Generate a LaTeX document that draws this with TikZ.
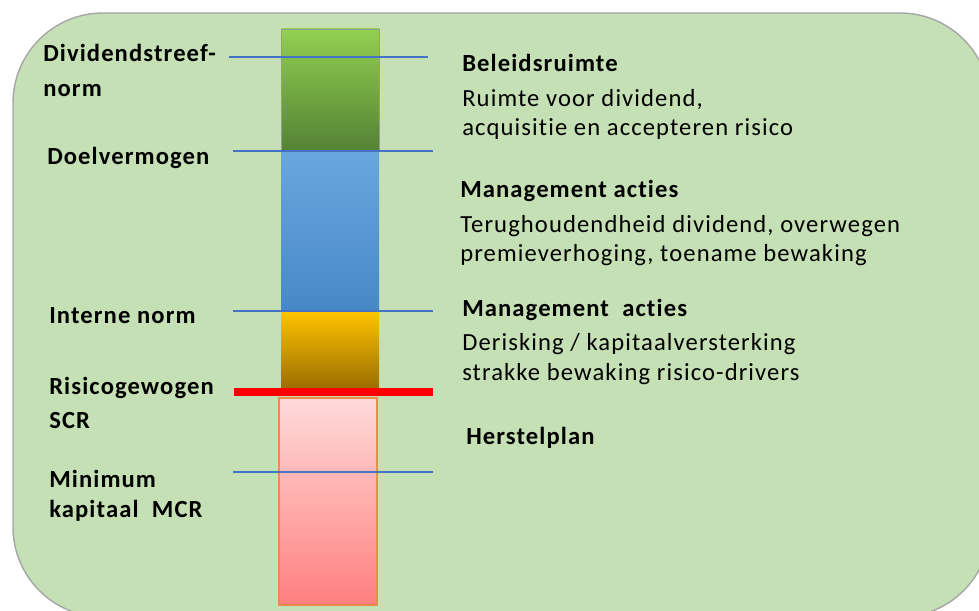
\documentclass[tikz,border=0pt]{standalone}
\usepackage{fontspec}
\setmainfont{Carlito}[Ligatures=NoCommon, LetterSpace=4.5]
\usetikzlibrary{positioning}

\definecolor{achtergrond}{HTML}{C5E0B4}
\definecolor{normblauw}{HTML}{4472C4}
\definecolor{groenboven}{HTML}{92D050}
\definecolor{groenonder}{HTML}{548235}
\definecolor{blauwboven}{HTML}{6AA6DE}
\definecolor{blauwonder}{HTML}{4688C8}
\definecolor{geelboven}{HTML}{FFC400}
\definecolor{geelonder}{HTML}{9C6E00}
\definecolor{roseboven}{HTML}{FFDADA}
\definecolor{roseonder}{HTML}{FF7F7F}
\definecolor{roserand}{HTML}{F08A4B}

\begin{document}
\begin{tikzpicture}[x=0.025cm,y=-0.025cm]
\tikzstyle{normlijn} = [draw=normblauw, line width=1pt]
\tikzstyle{kop} = [anchor=base west, inner sep=0pt, font=\fontsize{17.5}{20}\selectfont\bfseries]
\tikzstyle{tekst} = [anchor=base west, inner sep=0pt, font=\fontsize{17.5}{20}\selectfont]
\useasboundingbox (0,0) rectangle (979,611);
\clip (0,0) rectangle (979,611);
% achtergrond
\draw[fill=achtergrond, draw=gray!70, line width=1pt, rounded corners=2.25cm] (13,13) rectangle (990,617);
% kolom
\shade[top color=groenboven, bottom color=groenonder] (281,29) rectangle (379,151);
\draw[gray!80, line width=0.6pt] (281,151) |- (379,29) -- (379,151);
\shade[top color=blauwboven, bottom color=blauwonder] (281,151) rectangle (379,311);
\shade[top color=geelboven, bottom color=geelonder] (281,311) rectangle (379,388);
\shade[top color=roseboven, bottom color=roseonder, draw=roserand, line width=1pt] (279,398) rectangle (377,605);
% normen
\coordinate (dsn-l) at (229,57);  \coordinate (dsn-r) at (428,57);
\coordinate (dv-l) at (233,151);  \coordinate (dv-r) at (433,151);
\coordinate (in-l) at (233,311);  \coordinate (in-r) at (433,311);
\coordinate (mcr-l) at (233,472); \coordinate (mcr-r) at (433,472);
\coordinate (scr-l) at (234,392); \coordinate (scr-r) at (433,392);
\draw[normlijn] (dsn-l) -- (dsn-r);
\draw[normlijn] (dv-l) -- (dv-r);
\draw[normlijn] (in-l) -- (in-r);
\draw[normlijn] (mcr-l) -- (mcr-r);
\draw[red, line width=5.7pt] (scr-l) -- (scr-r);
% labels links
\node[kop] (dsn1) at (43,62) {Dividendstreef-};
\node[kop] (dsn2) at (43,96) {norm};
\node[kop] (dv) at (47,164) {Doelvermogen};
\node[kop] (in) at (49,323) {Interne norm};
\node[kop] (scr1) at (49,394) {Risicogewogen};
\node[kop] (scr2) at (49,428) {SCR};
\node[kop] (mcr1) at (49,487) {Minimum};
\node[kop] (mcr2) at (49,517) {kapitaal\ \ MCR};
% teksten rechts
\node[kop] (ruimte) at (462,72) {Beleidsruimte};
\node[tekst] (ruimte1) at (462,106) {Ruimte voor dividend,};
\node[tekst] (ruimte2) at (462,136) {acquisitie en accepteren risico};
\node[kop] (acties1) at (460,197) {Management acties};
\node[tekst] (acties1a) at (460,232) {Terughoudendheid dividend, overwegen};
\node[tekst] (acties1b) at (460,261) {premieverhoging, toename bewaking};
\node[kop] (acties2) at (462,316) {Management\ \ acties};
\node[tekst] (acties2a) at (462,350) {Derisking / kapitaalversterking};
\node[tekst] (acties2b) at (462,380) {strakke bewaking risico-drivers};
\node[kop] (herstel) at (466,444) {Herstelplan};
\end{tikzpicture}
\end{document}
